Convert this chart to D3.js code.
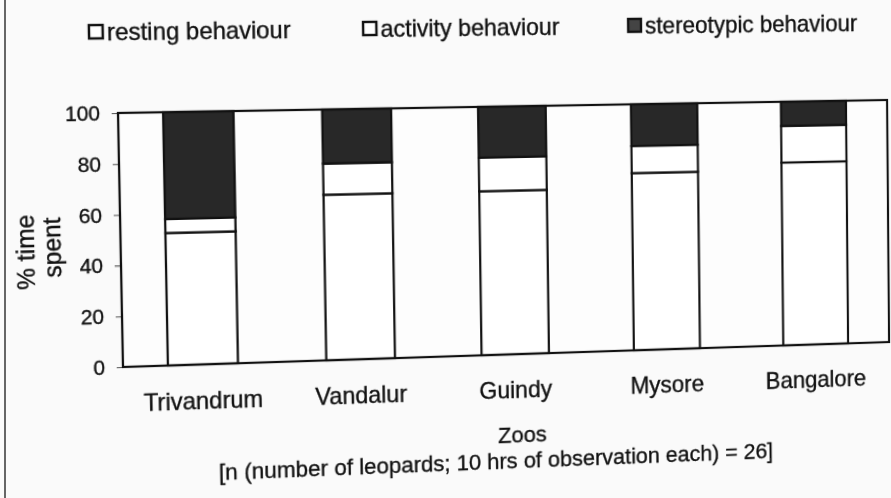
<!DOCTYPE html>
<html>
<head>
<meta charset="utf-8">
<script src="https://cdn.jsdelivr.net/npm/d3@7"></script>
<style>
  html, body { margin: 0; padding: 0; background: #fafafa; overflow: hidden; }
  #wrap { position: absolute; left: 0; top: 0; width: 891px; height: 498px; }
  #scanline { position: absolute; left: 4px; top: 0; width: 2px; height: 498px; background: #666; }
  svg { position: absolute; left: 0; top: 0; transform-origin: 0 0; }
  text { font-family: "Liberation Sans", Arial, sans-serif; fill: #111; stroke: #111; stroke-width: 0.35px; }
</style>
</head>
<body>
<div id="wrap"><div id="scanline"></div></div>
<script>
// ---- data ----
const zoos = ["Trivandrum", "Vandalur", "Guindy", "Mysore", "Bangalore"];
const resting = [52.4, 66.1, 66.1, 72.1, 75.1];
const activity = [5.5, 12.4, 13.5, 11.0, 15.0];
const stereotypic = [42.1, 21.5, 20.4, 16.9, 9.9];
const seriesNames = ["resting behaviour", "activity behaviour", "stereotypic behaviour"];
const yTicks = [0, 20, 40, 60, 80, 100];
const yTitle = ["% time", "spent"];
const xTitle = "Zoos";
const caption = "[n (number of leopards; 10 hrs of observation each) = 26]";

// ---- layout ----
const W = 891, H = 498;
const L = 120, R = 888, T = 106, B = 355;
const keys = ["resting", "activity", "stereotypic"];
const fills = { resting: "#ffffff", activity: "#ffffff", stereotypic: "#282828" };
const legendFills = ["#ffffff", "#ffffff", "#444444"];
const legendX = [93, 357, 621];

const table = zoos.map((z, i) => ({ zoo: z, resting: resting[i], activity: activity[i], stereotypic: stereotypic[i] }));
const stacked = d3.stack().keys(keys)(table);

const x = d3.scaleBand().domain(zoos).range([L, R]).paddingInner(0.56).paddingOuter(0.28);
const y = d3.scaleLinear().domain([0, 100]).range([B, T]);

const svg = d3.select("#wrap").append("svg").attr("width", W).attr("height", H);

// plot area
svg.append("rect").attr("x", L).attr("y", T).attr("width", R - L).attr("height", B - T)
  .attr("fill", "#fdfdfd");

// y axis ticks
const yAxis = d3.axisLeft(y).tickValues(yTicks).tickSize(6).tickPadding(11);
const gy = svg.append("g").attr("transform", `translate(${L},0)`).call(yAxis);
gy.select(".domain").remove();
gy.selectAll(".tick line").attr("stroke", "#555").attr("stroke-width", 1);
gy.selectAll(".tick text").style("font-size", "20px").attr("fill", "#111");

// bars
const layer = svg.append("g").selectAll("g").data(stacked).join("g")
  .attr("fill", d => fills[d.key]);
layer.selectAll("rect").data(d => d).join("rect")
  .attr("x", d => x(d.data.zoo))
  .attr("width", x.bandwidth())
  .attr("y", d => y(d[1]))
  .attr("height", d => y(d[0]) - y(d[1]))
  .attr("stroke", "#111").attr("stroke-width", 2.2);

// frame
svg.append("rect").attr("x", L).attr("y", T).attr("width", R - L).attr("height", B - T)
  .attr("fill", "none").attr("stroke", "#111").attr("stroke-width", 2.2);

// x axis labels
const xAxis = d3.axisBottom(x).tickSize(0).tickPadding(0);
const gx = svg.append("g").attr("transform", `translate(0,${B})`).call(xAxis);
gx.select(".domain").remove();
gx.selectAll(".tick text").attr("dy", null).attr("y", 44).style("font-size", "23px").attr("fill", "#111");

// axis titles
svg.append("text").attr("x", (L + R) / 2 + 6).attr("y", B + 89)
  .attr("text-anchor", "middle").style("font-size", "22px").text(xTitle);
svg.append("text").attr("x", (L + R) / 2 - 16).attr("y", B + 115)
  .attr("text-anchor", "middle").style("font-size", "22px").text(caption);

svg.append("text").attr("transform", "translate(38,240) rotate(-90)")
  .attr("text-anchor", "middle").style("font-size", "24px").text(yTitle[0]);
svg.append("text").attr("transform", "translate(63,236) rotate(-90)")
  .attr("text-anchor", "middle").style("font-size", "24px").text(yTitle[1]);

// legend
const lg = svg.append("g").selectAll("g").data(seriesNames).join("g")
  .attr("transform", (d, i) => `translate(${legendX[i]},${T - 86})`);
lg.append("rect").attr("x", 1).attr("y", 0).attr("width", 13).attr("height", 13)
  .attr("fill", (d, i) => legendFills[i]).attr("stroke", "#111").attr("stroke-width", 2.4);
lg.append("text").attr("x", 18).attr("y", 15).style("font-size", "23px").text(d => d);

// perspective of the scanned page: map plot corners to where they appear
function solveHomography(src, dst) {
  const A = [], b = [];
  for (let i = 0; i < 4; i++) {
    const [sx, sy] = src[i], [dx, dy] = dst[i];
    A.push([sx, sy, 1, 0, 0, 0, -sx * dx, -sy * dx]); b.push(dx);
    A.push([0, 0, 0, sx, sy, 1, -sx * dy, -sy * dy]); b.push(dy);
  }
  const n = 8;
  for (let c = 0; c < n; c++) {
    let p = c;
    for (let r = c + 1; r < n; r++) if (Math.abs(A[r][c]) > Math.abs(A[p][c])) p = r;
    [A[c], A[p]] = [A[p], A[c]]; [b[c], b[p]] = [b[p], b[c]];
    for (let r = 0; r < n; r++) {
      if (r === c) continue;
      const f = A[r][c] / A[c][c];
      for (let k = c; k < n; k++) A[r][k] -= f * A[c][k];
      b[r] -= f * b[c];
    }
  }
  return b.map((v, i) => v / A[i][i]);
}
const h = solveHomography(
  [[L, T], [R, T], [L, B], [R, B]],
  [[118, 113], [887, 100], [123, 367], [889, 342]]
);
const f = v => v.toFixed(12);
svg.style("transform", `matrix3d(${f(h[0])},${f(h[3])},0,${f(h[6])},${f(h[1])},${f(h[4])},0,${f(h[7])},0,0,1,0,${f(h[2])},${f(h[5])},0,1)`);
</script>
</body>
</html>
